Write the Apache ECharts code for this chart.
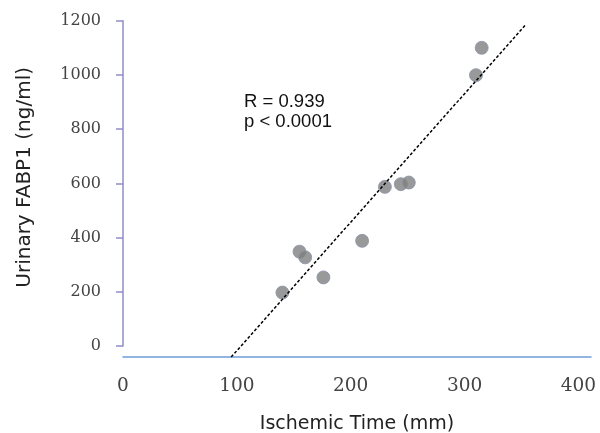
<!DOCTYPE html>
<html>
<head>
<meta charset="utf-8">
<script src="https://cdn.jsdelivr.net/npm/echarts@6/dist/echarts.min.js"></script>
<style>
  html, body { margin: 0; padding: 0; background: #fff; }
  #chart { width: 600px; height: 433px; }
</style>
</head>
<body>
<div id="chart"></div>
<script>
  // ischemic time (mm) vs urinary FABP1 (ng/ml)
  var time_mm = [140, 155, 160, 176, 210, 230, 244, 251, 310, 315];
  var fabp1 = [197, 348, 327, 253, 388, 587, 597, 603, 999, 1100];

  // regression line ends
  var fit_x = [95, 354];
  var fit_y = [-41, 1187];

  var x_ticks = [0, 100, 200, 300, 400];
  var y_ticks = [0, 200, 400, 600, 800, 1000, 1200];

  var stats_text = ['R = 0.939', 'p < 0.0001'];

  function _pairs(xs, ys){
    return xs.map(function(v, i){ return [v, ys[i]]; });
  }

  var chart = echarts.init(document.getElementById('chart'));

  var opt = {
    animation: false,
    grid: { left: 123, right: 9, top: 20.7, bottom: 87, outerBoundsMode: 'none' },
    xAxis: {
      type: 'value',
      min: 0,
      max: 411,
      interval: 100,
      offset: 11,
      name: 'Ischemic Time (mm)',
      nameLocation: 'middle',
      nameGap: 58,
      nameMoveOverlap: false,
      nameTextStyle: { fontFamily: 'DejaVu Sans', fontSize: 19, color: '#222' },
      axisLine: { onZero: false, lineStyle: { color: '#6f9fd8', width: 1.5 } },
      axisTick: { show: false },
      splitLine: { show: false },
      axisLabel: {
        showMaxLabel: false,
        margin: 20,
        fontFamily: 'DejaVu Serif',
        fontSize: 18.5,
        color: '#444',
        formatter: function(v){ return x_ticks.indexOf(v) >= 0 ? String(v) : ''; }
      }
    },
    yAxis: {
      type: 'value',
      min: 0,
      max: 1200,
      interval: 200,
      name: 'Urinary FABP1 (ng/ml)',
      nameLocation: 'middle',
      nameGap: 88,
      nameMoveOverlap: false,
      nameTextStyle: {
        fontFamily: 'DejaVu Sans', fontSize: 20, color: '#222',
        padding: [0, 0, 0, 12]
      },
      axisLine: { lineStyle: { color: '#8e8ec6', width: 1.5 } },
      axisTick: { length: 7, lineStyle: { color: '#8e8ec6', width: 1.5 } },
      splitLine: { show: false },
      axisLabel: {
        margin: 22,
        fontFamily: 'DejaVu Serif',
        fontSize: 16,
        color: '#444',
        formatter: function(v){ return y_ticks.indexOf(v) >= 0 ? String(v) : ''; }
      }
    },
    series: [{
      type: 'line',
      data: _pairs(fit_x, fit_y),
      clip: false,
      symbol: 'none',
      silent: true,
      lineStyle: { color: '#000', width: 1.5, type: [3, 2] },
      z: 3
    },{
      type: 'scatter',
      data: _pairs(time_mm, fabp1),
      symbolSize: 13,
      itemStyle: { color: '#808080', borderColor: '#8a94a8', borderWidth: 1 },
      z: 2
    }],
    graphic: [{
      type: 'text',
      left: 244,
      top: 92,
      style: {
        text: stats_text.join('\n'),
        fontFamily: 'Liberation Sans',
        fontSize: 18.5,
        lineHeight: 20,
        fill: '#111'
      }
    }]
  };

  chart.setOption(opt);
</script>
</body>
</html>
